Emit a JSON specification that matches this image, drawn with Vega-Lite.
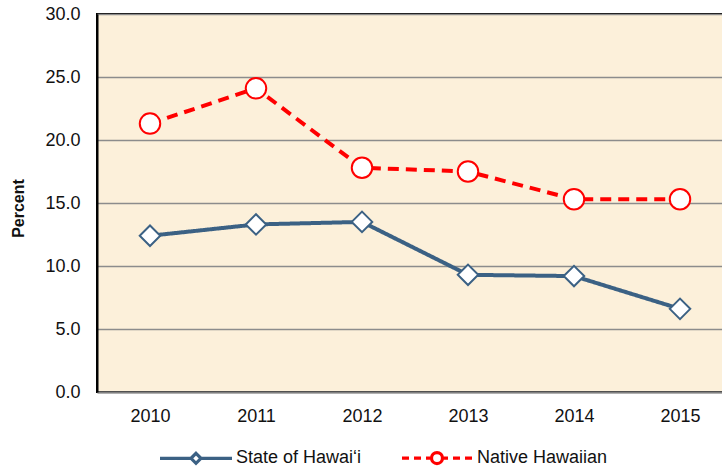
{
  "$schema": "https://vega.github.io/schema/vega-lite/v6.json",
  "autosize": "none",
  "padding": {"left": 97, "top": 14, "right": 0, "bottom": 76},
  "width": 636,
  "height": 378,
  "background": "white",
  "config": {
    "font": "Liberation Sans",
    "view": {"fill": "#fcf0da", "stroke": "#000", "strokeWidth": 2}
  },
  "data": {"values": [
    {"year": "2010", "series": "State of Hawai‘i", "value": 12.4},
    {"year": "2011", "series": "State of Hawai‘i", "value": 13.3},
    {"year": "2012", "series": "State of Hawai‘i", "value": 13.5},
    {"year": "2013", "series": "State of Hawai‘i", "value": 9.3},
    {"year": "2014", "series": "State of Hawai‘i", "value": 9.2},
    {"year": "2015", "series": "State of Hawai‘i", "value": 6.6},
    {"year": "2010", "series": "Native Hawaiian", "value": 21.3},
    {"year": "2011", "series": "Native Hawaiian", "value": 24.1},
    {"year": "2012", "series": "Native Hawaiian", "value": 17.8},
    {"year": "2013", "series": "Native Hawaiian", "value": 17.5},
    {"year": "2014", "series": "Native Hawaiian", "value": 15.3},
    {"year": "2015", "series": "Native Hawaiian", "value": 15.3}
  ]},
  "encoding": {
    "x": {"field": "year", "type": "ordinal", "scale": {"type": "point", "padding": 0.5},
      "axis": {"title": null, "labelAngle": 0, "labelFontSize": 18, "labelColor": "#111", "ticks": false, "labelPadding": 15, "domainColor": "#808080", "domainWidth": 2, "grid": false}},
    "y": {"field": "value", "type": "quantitative", "scale": {"domain": [0, 30], "nice": false},
      "axis": {"title": "Percent", "titleFontSize": 16, "titleFontWeight": "bold", "titleColor": "#111", "titlePadding": 18, "titleY": 194, "values": [0, 5, 10, 15, 20, 25, 30], "format": ".1f", "labelFontSize": 18, "labelColor": "#111", "ticks": false, "labelPadding": 17, "domainColor": "#000", "domainWidth": 2, "gridColor": "#8c8c8c", "gridWidth": 1.5, "gridOpacity": 1}}
  },
  "resolve": {"scale": {"shape": "independent", "stroke": "independent"}},
  "layer": [
    {
      "mark": {"type": "line", "strokeWidth": 4},
      "encoding": {
        "color": {"field": "series", "type": "nominal", "scale": {"domain": ["State of Hawai‘i", "Native Hawaiian"], "range": ["#3b6184", "#ff0000"]}, "legend": null},
        "strokeDash": {"field": "series", "type": "nominal", "scale": {"domain": ["State of Hawai‘i", "Native Hawaiian"], "range": [[1, 0], [11, 7]]}, "legend": null}
      }
    },
    {
      "mark": {"type": "point", "filled": false, "fill": "white", "fillOpacity": 1, "opacity": 1, "strokeWidth": 2},
      "encoding": {
        "stroke": {"field": "series", "type": "nominal", "scale": {"domain": ["State of Hawai‘i", "Native Hawaiian"], "range": ["#3b6184", "#ff0000"]}, "legend": null},
        "shape": {"field": "series", "type": "nominal", "scale": {"domain": ["State of Hawai‘i", "Native Hawaiian"], "range": ["diamond", "circle"]}, "legend": null},
        "size": {"value": 420}
      }
    },
    {
      "transform": [{"filter": "datum.value < 0"}],
      "mark": {"type": "point", "filled": false, "fill": "white", "fillOpacity": 1, "opacity": 1, "strokeWidth": 2},
      "encoding": {
        "stroke": {"field": "series", "type": "nominal", "title": null,
          "scale": {"domain": ["State of Hawai‘i", "Native Hawaiian"], "range": ["#3b6184", "#ff0000"]}},
        "shape": {"field": "series", "type": "nominal", "title": null,
          "scale": {"domain": ["State of Hawai‘i", "Native Hawaiian"],
            "range": [
              "M-3.6,0H-0.5M0.5,0H3.6M0,-0.5L0.5,0L0,0.5L-0.5,0Z",
              "M-3.5,0H-2.8M-2.3,0H-1.6M-1.1,0H-0.6M0.6,0H1.1M1.6,0H2.3M2.8,0H3.5M-0.55,0A0.55,0.55,0,1,0,0.55,0A0.55,0.55,0,1,0,-0.55,0Z"
            ]},
          "legend": {"orient": "none", "legendX": 87, "legendY": 432, "direction": "horizontal", "padding": 0,
            "symbolSize": 400, "symbolStrokeWidth": 3.2, "symbolFillColor": "white", "symbolOpacity": 1,
            "labelFontSize": 18, "labelColor": "#111", "labelOffset": 28, "columnPadding": 33, "labelLimit": 300}
        },
        "size": {"value": 400}
      }
    }
  ]
}
